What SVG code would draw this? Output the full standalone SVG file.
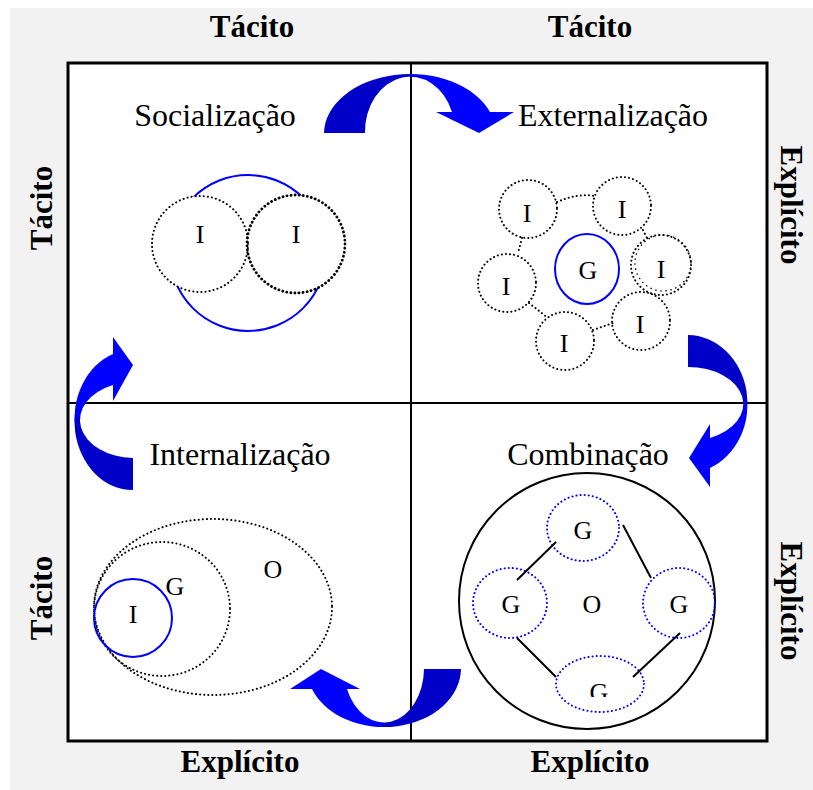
<svg xmlns="http://www.w3.org/2000/svg" width="813" height="790" viewBox="0 0 813 790">
<defs>
<style>
.ax{font-family:"Liberation Serif","Times New Roman",serif;font-weight:bold;font-size:31px;fill:#000;text-anchor:middle}
.qt{font-family:"Liberation Serif","Times New Roman",serif;font-size:32px;fill:#000;text-anchor:middle}
.lb{font-family:"Liberation Serif","Times New Roman",serif;font-size:26px;fill:#000;text-anchor:middle}
.dot{fill:none;stroke:#000;stroke-width:2;stroke-dasharray:0.1 4;stroke-linecap:round}
.dotb{fill:none;stroke:#00f;stroke-width:2;stroke-dasharray:0.1 4;stroke-linecap:round}
.blue{fill:none;stroke:#00f;stroke-width:2}
.ln{stroke:#000;stroke-width:2}
</style>
<linearGradient id="g1" gradientUnits="userSpaceOnUse" x1="324" y1="0" x2="514" y2="0">
<stop offset="0" stop-color="#0000c8"/><stop offset="0.45" stop-color="#0000c8"/><stop offset="0.45" stop-color="#0000ff"/><stop offset="1" stop-color="#0000ff"/>
</linearGradient>
<linearGradient id="g2" gradientUnits="userSpaceOnUse" x1="0" y1="337" x2="0" y2="490">
<stop offset="0" stop-color="#0000ff"/><stop offset="0.52" stop-color="#0000ff"/><stop offset="0.52" stop-color="#0000c8"/><stop offset="1" stop-color="#0000c8"/>
</linearGradient>
<linearGradient id="g3" gradientUnits="userSpaceOnUse" x1="0" y1="335" x2="0" y2="487">
<stop offset="0" stop-color="#0000c8"/><stop offset="0.45" stop-color="#0000c8"/><stop offset="0.45" stop-color="#0000ff"/><stop offset="1" stop-color="#0000ff"/>
</linearGradient>
<linearGradient id="g4" gradientUnits="userSpaceOnUse" x1="290" y1="0" x2="461" y2="0">
<stop offset="0" stop-color="#0000ff"/><stop offset="0.54" stop-color="#0000ff"/><stop offset="0.54" stop-color="#0000c8"/><stop offset="1" stop-color="#0000c8"/>
</linearGradient>
<clipPath id="cg"><rect x="540" y="640" width="120" height="57"/></clipPath>
</defs>
<rect x="0" y="0" width="813" height="790" fill="#fff"/>
<rect x="10" y="8" width="803" height="782" fill="#f2f2f2"/>
<rect x="68" y="63" width="699" height="678" fill="#fff" stroke="#000" stroke-width="3"/>
<line x1="411" y1="63" x2="411" y2="741" class="ln"/>
<line x1="68" y1="403" x2="767" y2="403" class="ln"/>

<g id="axis-labels">
<text class="ax" x="252" y="37">Tácito</text>
<text class="ax" x="590" y="37">Tácito</text>
<text class="ax" x="240" y="772">Explícito</text>
<text class="ax" x="590" y="772">Explícito</text>
<text class="ax" transform="translate(52,208) rotate(-90)">Tácito</text>
<text class="ax" transform="translate(52,598) rotate(-90)">Tácito</text>
<text class="ax" transform="translate(781,205) rotate(90)">Explícito</text>
<text class="ax" transform="translate(781,601) rotate(90)">Explícito</text>
</g>

<g id="socializacao">
<text class="qt" x="215" y="126">Socialização</text>
<circle cx="248" cy="253" r="78" class="blue"/>
<circle cx="200" cy="244" r="48" fill="#fff"/>
<circle cx="296" cy="244" r="49" fill="#fff"/>
<circle cx="200" cy="244" r="48" class="dot"/>
<circle cx="296" cy="244" r="49" class="dot" style="stroke-width:2.8"/>
<text class="lb" x="200" y="243">I</text>
<text class="lb" x="296" y="243">I</text>
</g>

<g id="externalizacao">
<text class="qt" x="613" y="126">Externalização</text>
<circle cx="528" cy="209" r="29" class="dot"/>
<circle cx="622" cy="206" r="29" class="dot"/>
<circle cx="507" cy="283" r="29" class="dot"/>
<circle cx="661" cy="265" r="30" class="dot"/>
<circle cx="663" cy="263" r="28" class="dot" style="stroke-width:1.5;stroke-dasharray:0.1 5"/>
<circle cx="641" cy="321" r="29" class="dot"/>
<circle cx="565" cy="341" r="29" class="dot"/>
<ellipse cx="587" cy="269" rx="32" ry="35" class="blue"/>
<path d="M557,202 Q578,193 595,196 M522,238 L518,253 M529,303 L548,318 M593,330 L613,323 M643,230 L647,238" class="dot"/>
<text class="lb" x="527" y="222">I</text>
<text class="lb" x="622" y="218">I</text>
<text class="lb" x="506" y="295">I</text>
<text class="lb" x="588" y="279">G</text>
<text class="lb" x="661" y="278">I</text>
<text class="lb" x="640" y="333">I</text>
<text class="lb" x="564" y="352">I</text>
</g>

<g id="internalizacao">
<text class="qt" x="240" y="465">Internalização</text>
<ellipse cx="213" cy="607" rx="119" ry="88" class="dot"/>
<ellipse cx="162" cy="609" rx="68" ry="67" class="dot"/>
<circle cx="133" cy="618" r="39" class="blue"/>
<text class="lb" x="133" y="623">I</text>
<text class="lb" x="175" y="595">G</text>
<text class="lb" x="273" y="578">O</text>
</g>

<g id="combinacao">
<text class="qt" x="588" y="465">Combinação</text>
<circle cx="587" cy="601" r="128" fill="none" stroke="#000" stroke-width="2"/>
<ellipse cx="583" cy="528" rx="36" ry="33" class="dotb"/>
<ellipse cx="510" cy="603" rx="37" ry="35" class="dotb"/>
<ellipse cx="679" cy="603" rx="36" ry="35" class="dotb"/>
<ellipse cx="600" cy="684" rx="44" ry="28" class="dotb"/>
<text class="lb" x="583" y="539">G</text>
<text class="lb" x="511" y="613">G</text>
<text class="lb" x="679" y="613">G</text>
<text class="lb" x="592" y="613">O</text>
<text class="lb" x="599" y="701" clip-path="url(#cg)">G</text>
</g>

<g id="connectors">
<path d="M517,580 L556,542 M623,525 L651,578 M517,638 L556,677 M680,633 L633,677" class="ln"/>
<path d="M324,133 A86,60 0 0 1 490,112 L514,112 L479,133 L436,112 L452,112 A45,55 0 0 0 365,133 Z" fill="url(#g1)"/>
<path d="M133,490 A58,70 0 0 1 113,354 L113,337 L133,365 L113,401 L113,385 A54,38 0 0 0 133,458 Z" fill="url(#g2)"/>
<path d="M688,335 A60,69 0 0 1 710,468 L710,487 L689,458 L710,424 L710,438 A55,37 0 0 0 688,367 Z" fill="url(#g3)"/>
<path d="M461,669 A77,59 0 0 1 312,689 L290,689 L321,669 L360,689 L347,689 A40,54 0 0 0 424,669 Z" fill="url(#g4)"/>
</g>
</svg>
